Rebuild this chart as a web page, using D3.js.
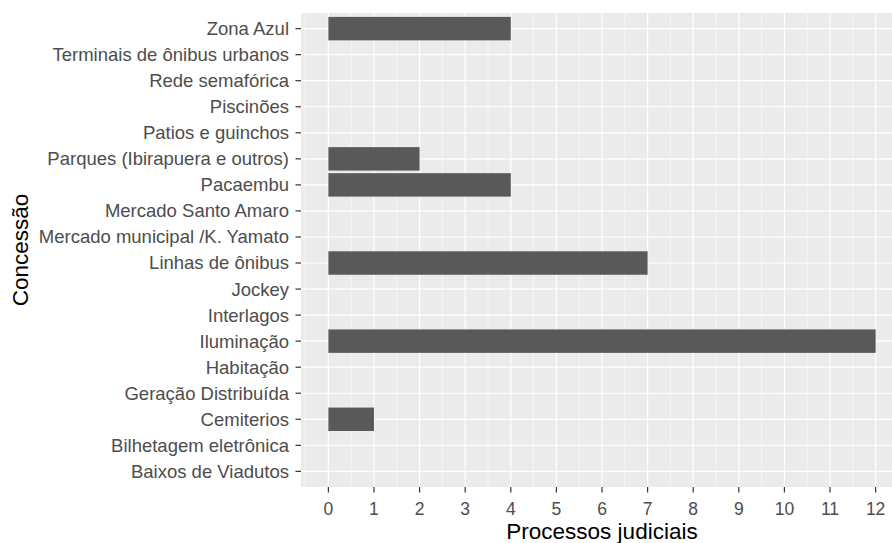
<!DOCTYPE html>
<html><head><meta charset="utf-8">
<script src="https://cdn.jsdelivr.net/npm/d3@7"></script>
<style>html,body{margin:0;padding:0;background:#fff;overflow:hidden}</style>
</head><body>
<svg id="chart" width="892" height="543"></svg>
<script>
// Data (bottom to top as in ggplot discrete axis)
const categories = [
  "Baixos de Viadutos","Bilhetagem eletrônica","Cemiterios","Geração Distribuída",
  "Habitação","Iluminação","Interlagos","Jockey","Linhas de ônibus",
  "Mercado municipal /K. Yamato","Mercado Santo Amaro","Pacaembu",
  "Parques (Ibirapuera e outros)","Patios e guinchos","Piscinões",
  "Rede semafórica","Terminais de ônibus urbanos","Zona Azul"
];
const values = [0,0,1,0,0,12,0,0,7,0,0,4,2,0,0,0,0,4];
const xTicks = [0,1,2,3,4,5,6,7,8,9,10,11,12];
const xMinor = [-0.5,0.5,1.5,2.5,3.5,4.5,5.5,6.5,7.5,8.5,9.5,10.5,11.5,12.5];
const xTitle = "Processos judiciais";
const yTitle = "Concessão";

const svg = d3.select("#chart");
const font = "'Liberation Sans', Arial, sans-serif";
const P = {left: 301, right: 903, top: 13, bottom: 487};

const x = d3.scaleLinear().domain([-0.6, 12.6]).range([P.left, P.right]);
const n = categories.length;
const yc = d3.scaleLinear().domain([-0.6, n - 1 + 0.6]).range([P.bottom, P.top]);
const bandH = Math.abs(yc(0.9) - yc(0));

// panel background
svg.append("rect").attr("x", P.left).attr("y", P.top)
  .attr("width", P.right - P.left).attr("height", P.bottom - P.top).attr("fill", "#EBEBEB");

// minor grid
svg.append("g").selectAll("line").data(xMinor).join("line")
  .attr("x1", d => x(d)).attr("x2", d => x(d)).attr("y1", P.top).attr("y2", P.bottom)
  .attr("stroke", "#fff").attr("stroke-width", 0.6);
// major grid vertical
svg.append("g").selectAll("line").data(xTicks).join("line")
  .attr("x1", d => x(d)).attr("x2", d => x(d)).attr("y1", P.top).attr("y2", P.bottom)
  .attr("stroke", "#fff").attr("stroke-width", 1.2);
// major grid horizontal
svg.append("g").selectAll("line").data(categories).join("line")
  .attr("y1", (d, i) => yc(i)).attr("y2", (d, i) => yc(i)).attr("x1", P.left).attr("x2", P.right)
  .attr("stroke", "#fff").attr("stroke-width", 1.2);

// bars
svg.append("g").selectAll("rect").data(values).join("rect")
  .attr("x", x(0)).attr("width", d => x(d) - x(0))
  .attr("y", (d, i) => yc(i) - bandH / 2).attr("height", bandH)
  .attr("fill", "#595959");

// y axis ticks & labels
const gy = svg.append("g");
gy.selectAll("line").data(categories).join("line")
  .attr("x1", P.left - 5.5).attr("x2", P.left).attr("y1", (d, i) => yc(i)).attr("y2", (d, i) => yc(i))
  .attr("stroke", "#333").attr("stroke-width", 1.2);
gy.selectAll("text").data(categories).join("text")
  .attr("x", P.left - 12).attr("y", (d, i) => yc(i)).attr("dy", "0.35em")
  .attr("text-anchor", "end").attr("font-family", font).attr("font-size", 18.5)
  .attr("fill", "#4D4D4D").text(d => d);

// x axis ticks & labels
const gx = svg.append("g");
gx.selectAll("line").data(xTicks).join("line")
  .attr("x1", d => x(d)).attr("x2", d => x(d)).attr("y1", P.bottom).attr("y2", P.bottom + 5.5)
  .attr("stroke", "#333").attr("stroke-width", 1.2);
gx.selectAll("text").data(xTicks).join("text")
  .attr("x", d => x(d)).attr("y", 514.5)
  .attr("text-anchor", "middle").attr("font-family", font).attr("font-size", 17.5)
  .attr("fill", "#4D4D4D").text(d => d);

// titles
svg.append("text").attr("x", (P.left + P.right) / 2).attr("y", 539)
  .attr("text-anchor", "middle").attr("font-family", font).attr("font-size", 22.5)
  .attr("fill", "#000").text(xTitle);
svg.append("text").attr("transform", `translate(28,${(P.top + P.bottom) / 2}) rotate(-90)`)
  .attr("text-anchor", "middle").attr("font-family", font).attr("font-size", 22.5)
  .attr("fill", "#000").text(yTitle);
</script>
</body></html>
